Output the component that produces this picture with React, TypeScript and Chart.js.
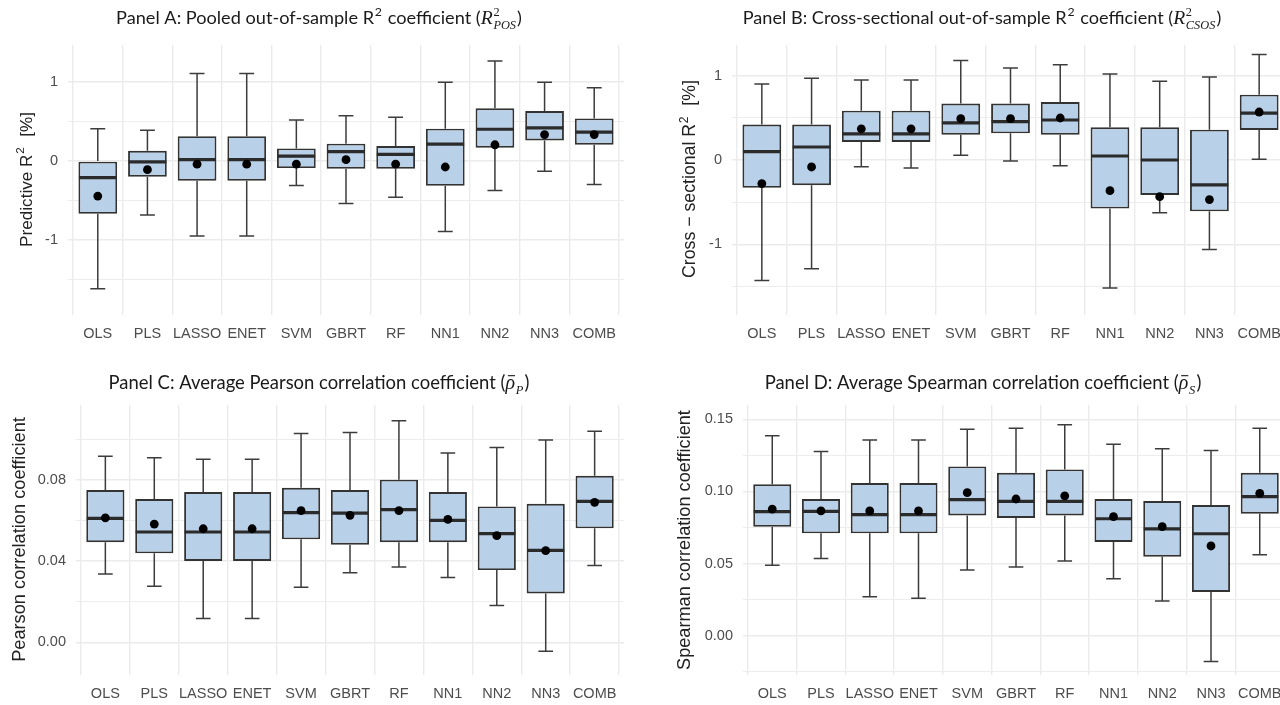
import React, { useEffect, useRef } from "react";
import { Chart, registerables } from "chart.js";

Chart.register(...registerables);

// ---------------- DATA ----------------
const categories = ["OLS", "PLS", "LASSO", "ENET", "SVM", "GBRT", "RF", "NN1", "NN2", "NN3", "COMB"];

// Panel A: pooled out-of-sample R2 [%]
const aLow = [-1.62, -0.685, -0.95, -0.95, -0.31, -0.54, -0.46, -0.895, -0.374, -0.13, -0.298];
const aQ1 = [-0.67, -0.2, -0.25, -0.25, -0.09, -0.097, -0.097, -0.315, 0.168, 0.26, 0.206];
const aMed = [-0.21, -0.01, 0.017, 0.017, 0.063, 0.118, 0.084, 0.214, 0.403, 0.42, 0.366];
const aQ3 = [0.0, 0.13, 0.315, 0.315, 0.16, 0.22, 0.19, 0.41, 0.668, 0.634, 0.54];
const aHigh = [0.41, 0.39, 1.11, 1.11, 0.52, 0.575, 0.555, 1.0, 1.27, 1.0, 0.93];
const aMean = [-0.445, -0.11, -0.04, -0.04, -0.04, 0.017, -0.04, -0.076, 0.206, 0.336, 0.336];

// Panel B: cross-sectional out-of-sample R2 [%]
const bLow = [-1.43, -1.29, -0.08, -0.095, 0.055, -0.012, -0.067, -1.52, -0.625, -1.063, 0.008];
const bQ1 = [-0.33, -0.3, 0.213, 0.213, 0.3, 0.316, 0.3, -0.577, -0.415, -0.609, 0.356];
const bMed = [0.1, 0.154, 0.31, 0.31, 0.44, 0.455, 0.474, 0.047, 0.0, -0.296, 0.557];
const bQ3 = [0.42, 0.42, 0.585, 0.585, 0.67, 0.67, 0.688, 0.387, 0.387, 0.36, 0.775];
const bHigh = [0.9, 0.97, 0.95, 0.95, 1.18, 1.09, 1.13, 1.02, 0.933, 0.984, 1.25];
const bMean = [-0.28, -0.083, 0.37, 0.37, 0.49, 0.49, 0.498, -0.364, -0.435, -0.47, 0.569];

// Panel C: average Pearson correlation
const cLow = [0.0337, 0.0276, 0.0117, 0.0117, 0.0271, 0.0343, 0.0371, 0.032, 0.0181, -0.0044, 0.0379];
const cQ1 = [0.0494, 0.0439, 0.0401, 0.0401, 0.0508, 0.0481, 0.0494, 0.0494, 0.0356, 0.0241, 0.0562];
const cMed = [0.0611, 0.0544, 0.0544, 0.0544, 0.0639, 0.0637, 0.0654, 0.0601, 0.0536, 0.0453, 0.0695];
const cQ3 = [0.0751, 0.0706, 0.0741, 0.0741, 0.0762, 0.0751, 0.0802, 0.0741, 0.067, 0.0683, 0.0821];
const cHigh = [0.0917, 0.091, 0.0902, 0.0902, 0.103, 0.1035, 0.1092, 0.0933, 0.0961, 0.0997, 0.1041];
const cMean = [0.0614, 0.0583, 0.056, 0.056, 0.0649, 0.0626, 0.0649, 0.0606, 0.0526, 0.0452, 0.069];

// Panel D: average Spearman correlation
const dLow = [0.0488, 0.0536, 0.027, 0.0259, 0.0455, 0.0476, 0.0518, 0.0395, 0.024, -0.018, 0.0562];
const dQ1 = [0.0756, 0.071, 0.071, 0.071, 0.0834, 0.0816, 0.0834, 0.065, 0.0548, 0.0303, 0.0846];
const dMed = [0.086, 0.0862, 0.0839, 0.0839, 0.0943, 0.0932, 0.0932, 0.0811, 0.074, 0.0707, 0.0964];
const dQ3 = [0.105, 0.0948, 0.1059, 0.1059, 0.1174, 0.113, 0.1153, 0.0948, 0.0934, 0.0906, 0.113];
const dHigh = [0.1387, 0.1278, 0.1357, 0.1357, 0.1431, 0.1438, 0.1463, 0.1327, 0.1297, 0.1285, 0.1438];
const dMean = [0.0878, 0.0865, 0.0865, 0.0865, 0.0992, 0.0948, 0.0969, 0.0825, 0.0756, 0.0622, 0.0987];

// Tick values (major = labelled, minor = grid only)
const abMajorTicks = [-1, 0, 1];
const abMinorTicks = [-1.5, -0.5, 0.5];
const cMajorTicks = [0, 0.04, 0.08];
const cMinorTicks = [0.02, 0.06, 0.1];
const dMajorTicks = [0, 0.05, 0.1, 0.15];
const dMinorTicks = [-0.025, 0.025, 0.075, 0.125];

// ---------------- TEXT ----------------
type Seg = { text?: string; math?: boolean; sup?: string; sub?: string; bar?: boolean };

const titleA: Seg[] = [
  { text: "Panel A: Pooled out-of-sample R" }, { sup: "2" }, { text: " coefficient (" },
  { text: "R", math: true }, { sup: "2", sub: "POS", math: true }, { text: ")" },
];
const titleB: Seg[] = [
  { text: "Panel B: Cross-sectional out-of-sample R" }, { sup: "2" }, { text: " coefficient (" },
  { text: "R", math: true }, { sup: "2", sub: "CSOS", math: true }, { text: ")" },
];
const titleC: Seg[] = [
  { text: "Panel C: Average Pearson correlation coefficient (" },
  { text: "ρ", math: true, bar: true }, { sub: "P", math: true }, { text: ")" },
];
const titleD: Seg[] = [
  { text: "Panel D: Average Spearman correlation coefficient (" },
  { text: "ρ", math: true, bar: true }, { sub: "S", math: true }, { text: ")" },
];
const yTitleA: Seg[] = [{ text: "Predictive R" }, { sup: "2" }, { text: "  [%]" }];
const yTitleB: Seg[] = [{ text: "Cross − sectional R" }, { sup: "2" }, { text: "  [%]" }];
const yTitleC: Seg[] = [{ text: "Pearson correlation coefficient" }];
const yTitleD: Seg[] = [{ text: "Spearman correlation coefficient" }];

// ---------------- STYLE ----------------
const FONT_SANS = '"Liberation Sans", Arial, sans-serif';
const FONT_TITLE = 'Lato, "Open Sans", sans-serif';
const FONT_MATH = '"Liberation Serif", "DejaVu Serif", serif';
const BOX_FILL = "#b9d0e9";
const LINE_DARK = "#333333";
const GRID = "#ebebeb";

type Item = { kind: "text" | "script"; s: Seg; x: number; w: number };

function layoutRich(ctx: CanvasRenderingContext2D, segs: Seg[], size: number, fam: string) {
  const items: Item[] = [];
  let w = 0;
  for (const s of segs) {
    if (s.text !== undefined) {
      ctx.font = s.math ? `italic ${size * 1.08}px ${FONT_MATH}` : `${size}px ${fam}`;
      const tw = ctx.measureText(s.text).width;
      items.push({ kind: "text", s, x: w, w: tw });
      w += tw;
    } else {
      const ss = size * 0.68;
      ctx.font = s.math ? `${ss}px ${FONT_MATH}` : `${ss}px ${fam}`;
      const w1 = s.sup ? ctx.measureText(s.sup).width : 0;
      ctx.font = s.math ? `italic ${ss}px ${FONT_MATH}` : `${ss}px ${fam}`;
      const w2 = s.sub ? ctx.measureText(s.sub).width : 0;
      const sw = Math.max(w1, w2);
      items.push({ kind: "script", s, x: w + size * 0.04, w: sw });
      w += sw + size * 0.1;
    }
  }
  return { items, w };
}

function drawRich(
  ctx: CanvasRenderingContext2D, segs: Seg[], fam: string,
  cx: number, cy: number, target: number, color: string,
) {
  const first = layoutRich(ctx, segs, 16, fam);
  const size = (16 * target) / first.w;
  const L = layoutRich(ctx, segs, size, fam);
  const x0 = cx - L.w / 2;
  const baseline = cy + size * 0.35;
  ctx.fillStyle = color;
  ctx.strokeStyle = color;
  ctx.textAlign = "left";
  ctx.textBaseline = "alphabetic";
  for (const it of L.items) {
    const s = it.s;
    if (it.kind === "text") {
      ctx.font = s.math ? `italic ${size * 1.08}px ${FONT_MATH}` : `${size}px ${fam}`;
      ctx.fillText(s.text as string, x0 + it.x, baseline);
      if (s.bar) {
        ctx.lineWidth = Math.max(1, size * 0.06);
        ctx.beginPath();
        ctx.moveTo(x0 + it.x + it.w * 0.25, baseline - size * 0.72);
        ctx.lineTo(x0 + it.x + it.w * 1.0, baseline - size * 0.72);
        ctx.stroke();
      }
    } else {
      const ss = size * 0.68;
      if (s.sup) {
        ctx.font = s.math ? `${ss}px ${FONT_MATH}` : `${ss}px ${fam}`;
        ctx.fillText(s.sup, x0 + it.x, baseline - size * 0.42);
      }
      if (s.sub) {
        ctx.font = s.math ? `italic ${ss}px ${FONT_MATH}` : `${ss}px ${fam}`;
        ctx.fillText(s.sub, x0 + it.x, baseline + size * 0.26);
      }
    }
  }
}

// ---------------- PANEL CONFIGS ----------------
type PanelCfg = {
  left: number; top: number; w: number; h: number;
  padRight: number; padTop: number; yAxisW: number; xAxisH: number;
  yMin: number; yMax: number; majors: number[]; minors: number[]; decimals: number;
  low: number[]; q1: number[]; med: number[]; q3: number[]; high: number[]; mean: number[];
  title: Seg[]; titleCx: number; titleCy: number; titleW: number;
  yTitle: Seg[]; yTitleCx: number; yTitleCy: number; yTitleLen: number;
};

const panels: PanelCfg[] = [
  {
    left: 0, top: 0, w: 640, h: 352, padRight: 16, padTop: 45, yAxisW: 68, xAxisH: 37,
    yMin: -1.954, yMax: 1.472, majors: abMajorTicks, minors: abMinorTicks, decimals: 0,
    low: aLow, q1: aQ1, med: aMed, q3: aQ3, high: aHigh, mean: aMean,
    title: titleA, titleCx: 319, titleCy: 17.5, titleW: 406,
    yTitle: yTitleA, yTitleCx: 25.5, yTitleCy: 179.5, yTitleLen: 135,
  },
  {
    left: 640, top: 0, w: 660, h: 352, padRight: 11, padTop: 45, yAxisW: 92, xAxisH: 37,
    yMin: -1.839, yMax: 1.364, majors: abMajorTicks, minors: abMinorTicks, decimals: 0,
    low: bLow, q1: bQ1, med: bMed, q3: bQ3, high: bHigh, mean: bMean,
    title: titleB, titleCx: 342, titleCy: 17.5, titleW: 479,
    yTitle: yTitleB, yTitleCx: 49, yTitleCy: 179, yTitleLen: 198,
  },
  {
    left: 0, top: 360, w: 640, h: 345, padRight: 16, padTop: 45, yAxisW: 76, xAxisH: 30,
    yMin: -0.0161, yMax: 0.117, majors: cMajorTicks, minors: cMinorTicks, decimals: 2,
    low: cLow, q1: cQ1, med: cMed, q3: cQ3, high: cHigh, mean: cMean,
    title: titleC, titleCx: 319, titleCy: 22.5, titleW: 421,
    yTitle: yTitleC, yTitleCx: 18.5, yTitleCy: 179.5, yTitleLen: 245,
  },
  {
    left: 640, top: 360, w: 660, h: 345, padRight: 11, padTop: 45, yAxisW: 103, xAxisH: 30,
    yMin: -0.0273, yMax: 0.16, majors: dMajorTicks, minors: dMinorTicks, decimals: 2,
    low: dLow, q1: dQ1, med: dMed, q3: dQ3, high: dHigh, mean: dMean,
    title: titleD, titleCx: 343, titleCy: 22.5, titleW: 437,
    yTitle: yTitleD, yTitleCx: 43.5, yTitleCy: 180, yTitleLen: 260,
  },
];

function isMajor(v: number, majors: number[]) {
  return majors.some((m) => Math.abs(m - v) < 1e-9);
}

function buildChart(canvas: HTMLCanvasElement, p: PanelCfg) {
  const whiskerPlugin = {
    id: "whiskers",
    beforeDatasetsDraw(chart: any) {
      const { ctx, scales } = chart;
      const x = scales.x, y = scales.y;
      const step = x.getPixelForValue(1) - x.getPixelForValue(0);
      const half = (step * 0.3) / 2;
      ctx.save();
      ctx.strokeStyle = "#3c3c3c";
      ctx.lineWidth = 1.5;
      p.low.forEach((_, i) => {
        const px = x.getPixelForValue(i);
        const yHigh = y.getPixelForValue(p.high[i]);
        const yLow = y.getPixelForValue(p.low[i]);
        const yQ3 = y.getPixelForValue(p.q3[i]);
        const yQ1 = y.getPixelForValue(p.q1[i]);
        ctx.beginPath();
        ctx.moveTo(px, yQ3); ctx.lineTo(px, yHigh);
        ctx.moveTo(px - half, yHigh); ctx.lineTo(px + half, yHigh);
        ctx.moveTo(px, yQ1); ctx.lineTo(px, yLow);
        ctx.moveTo(px - half, yLow); ctx.lineTo(px + half, yLow);
        ctx.stroke();
      });
      ctx.restore();
    },
    afterDatasetDraw(chart: any, args: any) {
      if (args.meta.type !== "bar") return;
      const { ctx, scales } = chart;
      ctx.save();
      ctx.strokeStyle = "#2b2b2b";
      ctx.lineWidth = 3.2;
      args.meta.data.forEach((bar: any, i: number) => {
        const py = scales.y.getPixelForValue(p.med[i]);
        ctx.beginPath();
        ctx.moveTo(bar.x - bar.width / 2 + 0.5, py);
        ctx.lineTo(bar.x + bar.width / 2 - 0.5, py);
        ctx.stroke();
      });
      ctx.restore();
    },
  };

  const textPlugin = {
    id: "richText",
    afterDraw(chart: any) {
      const ctx = chart.ctx as CanvasRenderingContext2D;
      ctx.save();
      drawRich(ctx, p.title, FONT_TITLE, p.titleCx, p.titleCy, p.titleW, "#1a1a1a");
      ctx.restore();
      ctx.save();
      ctx.translate(p.yTitleCx, p.yTitleCy);
      ctx.rotate(-Math.PI / 2);
      drawRich(ctx, p.yTitle, FONT_SANS, 0, 0, p.yTitleLen, "#222222");
      ctx.restore();
    },
  };

  const tickFont = { family: FONT_SANS, size: 14.5 };

  return new Chart(canvas, {
    type: "bar",
    data: {
      datasets: [
        {
          type: "line",
          order: 1,
          data: p.mean.map((v, i) => ({ x: i, y: v })),
          showLine: false,
          pointRadius: 4.4,
          pointBackgroundColor: "#000000",
          pointBorderWidth: 0,
          pointHoverRadius: 4.4,
        } as any,
        {
          type: "bar",
          order: 2,
          data: p.q1.map((v, i) => ({ x: i, y: [v, p.q3[i]] })),
          backgroundColor: BOX_FILL,
          borderColor: LINE_DARK,
          borderWidth: 1.9,
          borderSkipped: false,
          barPercentage: 0.78,
          categoryPercentage: 1,
        } as any,
      ],
    },
    options: {
      animation: false,
      responsive: false,
      maintainAspectRatio: false,
      devicePixelRatio: 1,
      events: [],
      layout: { padding: { top: p.padTop, right: p.padRight, left: 0, bottom: 0 } },
      plugins: {
        legend: { display: false },
        tooltip: { enabled: false },
        title: { display: false },
      },
      scales: {
        x: {
          type: "linear",
          min: -0.6,
          max: 10.6,
          bounds: "data",
          offset: false,
          border: { display: false },
          grid: { color: GRID, lineWidth: 1.4, drawTicks: false },
          ticks: {
            autoSkip: false,
            maxRotation: 0,
            minRotation: 0,
            padding: 10,
            color: "#4d4d4d",
            font: tickFont,
            callback: (v: any) => categories[Math.round(Number(v))] ?? "",
          },
          afterBuildTicks: (s: any) => {
            s.ticks = categories.map((_, i) => ({ value: i }));
          },
          afterFit: (s: any) => {
            s.height = p.xAxisH;
          },
        },
        y: {
          type: "linear",
          min: p.yMin,
          max: p.yMax,
          bounds: "data",
          border: { display: false },
          grid: {
            color: GRID,
            drawTicks: false,
            lineWidth: (c: any) => (c.tick && isMajor(c.tick.value, p.majors) ? 1.4 : 0.9),
          },
          ticks: {
            padding: 10,
            color: "#4d4d4d",
            font: tickFont,
            callback: (v: any) => (isMajor(Number(v), p.majors) ? Number(v).toFixed(p.decimals) : ""),
          },
          afterBuildTicks: (s: any) => {
            s.ticks = [...p.majors, ...p.minors].sort((a, b) => a - b).map((v) => ({ value: v }));
          },
          afterFit: (s: any) => {
            s.width = p.yAxisW;
          },
        },
      },
    } as any,
    plugins: [whiskerPlugin, textPlugin] as any,
  });
}

function Panel({ p }: { p: PanelCfg }) {
  const ref = useRef<HTMLCanvasElement>(null);
  useEffect(() => {
    if (!ref.current) return;
    const chart = buildChart(ref.current, p);
    return () => chart.destroy();
  }, [p]);
  return (
    <canvas
      ref={ref}
      width={p.w}
      height={p.h}
      style={{ position: "absolute", left: p.left, top: p.top, width: p.w, height: p.h }}
    />
  );
}

export default function App() {
  return (
    <div
      style={{
        position: "fixed",
        left: 0,
        top: 0,
        width: 1280,
        height: 705,
        overflow: "hidden",
        background: "#ffffff",
      }}
    >
      {panels.map((p, i) => (
        <Panel key={i} p={p} />
      ))}
    </div>
  );
}
